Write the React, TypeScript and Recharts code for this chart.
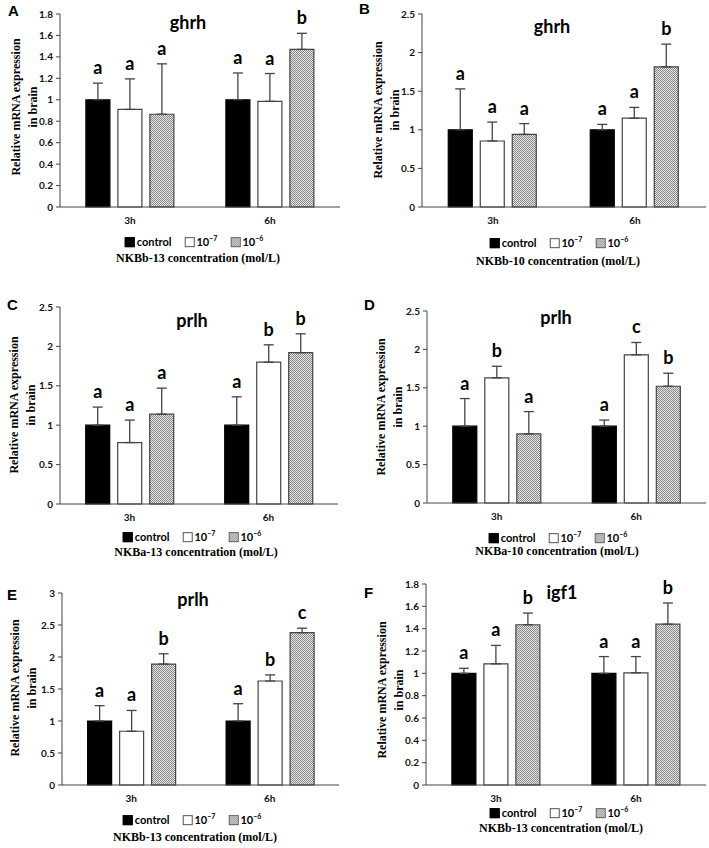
import { BarChart, Bar, XAxis, YAxis, ErrorBar, LabelList } from 'recharts';

// shared categories
const groups = ['3h', '6h'];
const seriesNames = ['control', '10⁻⁷', '10⁻⁶'];

// value order: 3h control, 3h 10^-7, 3h 10^-6, 6h control, 6h 10^-7, 6h 10^-6
const ghrhBb13Means = [1.0, 0.91, 0.865, 1.0, 0.985, 1.47];
const ghrhBb13Errors = [0.155, 0.285, 0.47, 0.25, 0.26, 0.15];
const ghrhBb13Letters = ['a', 'a', 'a', 'a', 'a', 'b'];

const ghrhBb10Means = [1.0, 0.855, 0.94, 1.0, 1.15, 1.815];
const ghrhBb10Errors = [0.53, 0.245, 0.14, 0.07, 0.14, 0.295];
const ghrhBb10Letters = ['a', 'a', 'a', 'a', 'a', 'b'];

const prlhBa13Means = [1.0, 0.78, 1.14, 1.0, 1.8, 1.92];
const prlhBa13Errors = [0.23, 0.285, 0.33, 0.36, 0.22, 0.24];
const prlhBa13Letters = ['a', 'a', 'a', 'a', 'b', 'b'];

const prlhBa10Means = [1.0, 1.63, 0.9, 1.0, 1.93, 1.52];
const prlhBa10Errors = [0.36, 0.15, 0.29, 0.08, 0.16, 0.17];
const prlhBa10Letters = ['a', 'b', 'a', 'a', 'c', 'b'];

const prlhBb13Means = [1.0, 0.84, 1.89, 1.0, 1.625, 2.38];
const prlhBb13Errors = [0.24, 0.325, 0.16, 0.27, 0.095, 0.07];
const prlhBb13Letters = ['a', 'a', 'b', 'a', 'b', 'c'];

const igf1Bb13Means = [1.0, 1.085, 1.435, 1.0, 1.005, 1.44];
const igf1Bb13Errors = [0.045, 0.165, 0.105, 0.15, 0.145, 0.19];
const igf1Bb13Letters = ['a', 'a', 'b', 'a', 'a', 'b'];

const ticks18 = [0, 0.2, 0.4, 0.6, 0.8, 1, 1.2, 1.4, 1.6, 1.8];
const ticks25 = [0, 0.5, 1, 1.5, 2, 2.5];
const ticks3 = [0, 0.5, 1, 1.5, 2, 2.5, 3];

const SANS = "Lato, 'Open Sans', Arial, sans-serif";
const SERIF = "'Liberation Serif', 'Times New Roman', serif";
const AXIS = '#444';

const panels = [
  { id: 'A', x: 0, y: 0, w: 354, h: 280, plot: [60, 340, 14, 207], ticks: ticks18, means: ghrhBb13Means, errors: ghrhBb13Errors, letters: ghrhBb13Letters, title: 'ghrh', titleAt: [188, 22], labelAt: [8, 3], yLabelAt: [24.5, 107], legendAt: [194, 241], xTitle: 'NKBb-13 concentration (mol/L)', xTitleAt: [198, 258] },
  { id: 'B', x: 354, y: 0, w: 355, h: 280, plot: [422, 706, 14, 207], ticks: ticks25, means: ghrhBb10Means, errors: ghrhBb10Errors, letters: ghrhBb10Letters, title: 'ghrh', titleAt: [552, 26], labelAt: [359, 1], yLabelAt: [386, 110], legendAt: [559, 242], xTitle: 'NKBb-10 concentration (mol/L)', xTitleAt: [558, 261] },
  { id: 'C', x: 0, y: 280, w: 354, h: 280, plot: [60, 338, 307, 504], ticks: ticks25, means: prlhBa13Means, errors: prlhBa13Errors, letters: prlhBa13Letters, title: 'prlh', titleAt: [192, 320], labelAt: [7, 297], yLabelAt: [22, 405], legendAt: [192, 536], xTitle: 'NKBa-13 concentration (mol/L)', xTitleAt: [196, 552] },
  { id: 'D', x: 354, y: 280, w: 355, h: 280, plot: [427, 706, 311, 503], ticks: ticks25, means: prlhBa10Means, errors: prlhBa10Errors, letters: prlhBa10Letters, title: 'prlh', titleAt: [556, 317], labelAt: [364, 297], yLabelAt: [389, 407], legendAt: [558, 537], xTitle: 'NKBa-10 concentration (mol/L)', xTitleAt: [557, 551] },
  { id: 'E', x: 0, y: 560, w: 354, h: 288, plot: [62, 339, 593, 785], ticks: ticks3, means: prlhBb13Means, errors: prlhBb13Errors, letters: prlhBb13Letters, title: 'prlh', titleAt: [193, 599], labelAt: [7, 587], yLabelAt: [23, 688], legendAt: [192, 819], xTitle: 'NKBb-13 concentration (mol/L)', xTitleAt: [195, 837] },
  { id: 'F', x: 354, y: 560, w: 355, h: 288, plot: [426, 706, 584, 785], ticks: ticks18, means: igf1Bb13Means, errors: igf1Bb13Errors, letters: igf1Bb13Letters, title: 'igf1', titleAt: [562, 592], labelAt: [364, 585], yLabelAt: [390, 690], legendAt: [559, 812], xTitle: 'NKBb-13 concentration (mol/L)', xTitleAt: [561, 828] },
];

const barStyles = [
  { fill: '#000', stroke: '#000' },
  { fill: '#fff', stroke: '#444' },
  { fill: 'pattern', stroke: '#444' },
];

function buildRows(means: number[], errors: number[], letters: string[]) {
  return groups.map((g, gi) => {
    const row: any = { group: g };
    seriesNames.forEach((_, si) => {
      const k = gi * 3 + si;
      row[`s${si}`] = means[k];
      row[`e${si}`] = [0, errors[k]];
      row[`l${si}`] = letters[k];
    });
    return row;
  });
}

const letterContent = (rows: any[], si: number) => (props: any) => {
  const vb = props.viewBox ?? props;
  const row = rows[props.index ?? 0];
  if (!row || vb.height == null) return null;
  const mean = row[`s${si}`];
  const err = row[`e${si}`][1];
  const top = vb.y - (err * vb.height) / mean;
  return (
    <text x={vb.x + vb.width / 2} y={top - 9} textAnchor="middle" fontFamily={SANS} fontWeight={700} fontSize={18} fill="#000">
      {props.value}
    </text>
  );
};

function Center({ at, style, children }: any) {
  return (
    <div style={{ position: 'absolute', left: at[0], top: at[1], transform: 'translate(-50%, -50%)', whiteSpace: 'nowrap', ...style }}>
      {children}
    </div>
  );
}

function Swatch({ kind }: { kind: number }) {
  const bg = kind === 0 ? '#000' : kind === 1 ? '#fff' : 'repeating-conic-gradient(#888 0% 25%, #e6e6e6 0% 50%) 0 0 / 2px 2px';
  return (
    <span style={{ display: 'inline-block', width: 8, height: 8, background: bg, border: `1px solid ${kind === 0 ? '#000' : '#555'}`, marginRight: 2, verticalAlign: -1 }} />
  );
}

function Panel({ p }: { p: any }) {
  const rows = buildRows(p.means, p.errors, p.letters);
  const [pl, pr, pt, pb] = p.plot;
  const yAxisW = 30;
  const margin = { left: pl - p.x - yAxisW, right: p.x + p.w - pr, top: pt - p.y, bottom: p.y + p.h - pb - 26 };
  const patId = `hatch${p.id}`;
  const max = p.ticks[p.ticks.length - 1];
  return (
    <>
      <div style={{ position: 'absolute', left: p.x, top: p.y }}>
        <BarChart width={p.w} height={p.h} data={rows} margin={margin} barCategoryGap="18.5%" barGap={8}>
          <defs>
            <pattern id={patId} width={2} height={2} patternUnits="userSpaceOnUse">
              <rect width={2} height={2} fill="#e6e6e6" />
              <rect width={1} height={1} fill="#888" />
              <rect x={1} y={1} width={1} height={1} fill="#888" />
            </pattern>
          </defs>
          <XAxis xAxisId="zCat" dataKey="group" axisLine={false} tickLine={false} tickSize={0} tickMargin={4} height={20} interval={0}
            tick={{ fontSize: 10, fontWeight: 700, fill: '#111', fontFamily: SANS }} />
          <XAxis xAxisId="aEdge" type="number" domain={[0, 2]} ticks={[0, 1, 2]} tick={false} tickSize={5} height={6} stroke={AXIS} allowDataOverflow />
          <YAxis domain={[0, max]} ticks={p.ticks} width={yAxisW} tickSize={4} tickMargin={3} stroke={AXIS} interval={0}
            tick={{ fontSize: 10, fontWeight: 700, fill: '#111', fontFamily: SANS }} />
          {seriesNames.map((name, si) => (
            <Bar key={name} xAxisId="zCat" dataKey={`s${si}`} name={name} isAnimationActive={false}
              fill={barStyles[si].fill === 'pattern' ? `url(#${patId})` : barStyles[si].fill}
              stroke={barStyles[si].stroke} strokeWidth={1.2}>
              <ErrorBar dataKey={`e${si}`} width={5} stroke={AXIS} strokeWidth={1.3} isAnimationActive={false} />
              <LabelList dataKey={`l${si}`} content={letterContent(rows, si)} />
            </Bar>
          ))}
        </BarChart>
      </div>
      <div style={{ position: 'absolute', left: p.labelAt[0], top: p.labelAt[1], fontFamily: "'Liberation Sans', Arial, sans-serif", fontWeight: 700, fontSize: 15, lineHeight: 1 }}>
        {p.id}
      </div>
      <Center at={p.titleAt} style={{ fontFamily: SANS, fontWeight: 700, fontSize: 18 }}>{p.title}</Center>
      <Center at={p.legendAt} style={{ fontFamily: SANS, fontWeight: 700, fontSize: 11 }}>
        <Swatch kind={0} />control<span style={{ display: 'inline-block', width: 13 }} />
        <Swatch kind={1} />10<sup style={{ fontSize: 7 }}>−7</sup><span style={{ display: 'inline-block', width: 13 }} />
        <Swatch kind={2} />10<sup style={{ fontSize: 7 }}>−6</sup>
      </Center>
      <Center at={p.xTitleAt} style={{ fontFamily: SERIF, fontWeight: 700, fontSize: 12 }}>{p.xTitle}</Center>
    </>
  );
}

export default function App() {
  return (
    <div style={{ position: 'absolute', left: 0, top: 0, width: 709, height: 848, background: '#fff', overflow: 'hidden' }}>
      {panels.map((p) => (
        <Panel key={p.id} p={p} />
      ))}
      <svg width={709} height={848} style={{ position: 'absolute', left: 0, top: 0, pointerEvents: 'none' }}>
        {panels.map((p) => (
          <text key={p.id} transform={`translate(${p.yLabelAt[0]},${p.yLabelAt[1]}) rotate(-90)`} textAnchor="middle"
            dominantBaseline="central" fontFamily={SERIF} fontWeight={700} fontSize={12} fill="#000">
            <tspan x={0} y={-8.5}>Relative mRNA expression</tspan>
            <tspan x={0} y={8.5}>in brain</tspan>
          </text>
        ))}
      </svg>
    </div>
  );
}
